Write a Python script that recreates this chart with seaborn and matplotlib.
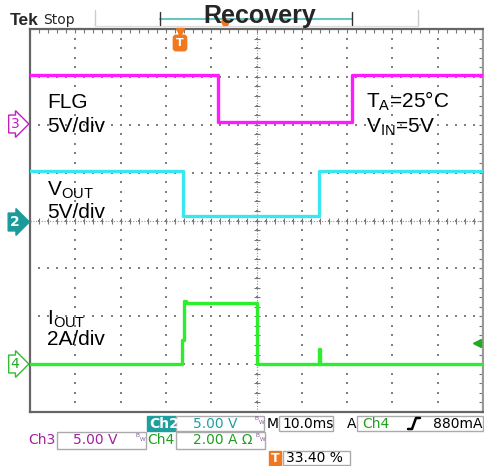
#!/usr/bin/env python3
import numpy as np, pandas as pd
import matplotlib
matplotlib.use('Agg')
import matplotlib.pyplot as plt
import seaborn as sns
from matplotlib.patches import Rectangle
from matplotlib.lines import Line2D

# screen: 10 ms/div, 10 divs, trigger at 33.40 %
t_left, t_right = -33.4, 66.6

# FLG (Ch3, 5 V/div, ground +2 div)
flg_t = [-33.4, 8.0, 37.6, 66.6]
flg_v = [5.2, 0.25, 5.2, 5.2]
# VOUT (Ch2, 5 V/div, ground 0 div)
vout_t = [-33.4, 0.4, 30.5, 66.6]
vout_v = [5.2, 0.45, 5.2, 5.2]
# IOUT (Ch4, 2 A/div, ground -3 div)
iout_t = [-33.4, 0.2, 0.5, 1.0, 16.6, 30.4, 30.6, 66.6]
iout_a = [0.0, 1.0, 2.65, 2.55, 0.0, 0.62, 0.0, 0.0]
trig_level = 0.88  # A

chan = {'FLG': (2, 5.0), 'VOUT': (0, 5.0), 'IOUT': (-3, 2.0)}
colors = {'FLG': '#ff1aff', 'VOUT': '#3ae6f0', 'IOUT': '#2cee2c'}

frames = []
for name, t, v in [('FLG', flg_t, flg_v), ('VOUT', vout_t, vout_v), ('IOUT', iout_t, iout_a)]:
    off, sc = chan[name]
    frames.append(pd.DataFrame({'trace': name, 't': t, 'div': off + np.array(v) / sc}))
df = pd.concat(frames, ignore_index=True)

sns.set_style('white')
plt.rcParams['mathtext.fontset'] = 'custom'
plt.rcParams['mathtext.rm'] = 'Liberation Sans'

W, H = 485, 466
def px(x, y):
    return (x / W, 1 - y / H)

fig = plt.figure(figsize=(4.85, 4.66), dpi=100)
ax = fig.add_axes([30 / W, 1 - 412 / H, 453 / W, 383 / H])

# graticule
major_x = t_left + 10 * np.arange(11)
minor_x = t_left + 2 * np.arange(51)
major_y = np.arange(-4, 5)
minor_y = np.linspace(-4, 4, 41)
gx, gy = np.meshgrid(major_x, minor_y)
ax.scatter(gx.ravel(), gy.ravel(), s=1.2, marker='s', color='#808080', lw=0, zorder=1)
gx, gy = np.meshgrid(minor_x, major_y)
ax.scatter(gx.ravel(), gy.ravel(), s=1.2, marker='s', color='#808080', lw=0, zorder=1)
xc = t_left + 50
ax.axvline(xc, ls=(0, (1, 1.5)), lw=0.8, color='#909090', zorder=1)
ax.axhline(0, ls=(0, (1, 1.5)), lw=0.8, color='#909090', zorder=1)
ax.scatter(np.full_like(minor_y, xc), minor_y, marker='_', s=14, lw=0.8, color='#777777', zorder=1)
ax.scatter(minor_x, np.zeros_like(minor_x), marker='|', s=14, lw=0.8, color='#777777', zorder=1)

sns.lineplot(data=df, x='t', y='div', hue='trace', palette=colors, drawstyle='steps-post',
             estimator=None, sort=False, legend=False, lw=2.4, ax=ax, zorder=3)

ax.set_xlim(t_left, t_right)
ax.set_ylim(-4, 4)
ax.set_xticks(major_x)
ax.set_xticks(minor_x, minor=True)
ax.set_yticks(major_y)
ax.set_yticks(minor_y, minor=True)
ax.tick_params(which='both', direction='in', length=3, width=0.8, color='#777777',
               top=True, right=True, labelbottom=False, labelleft=False)
ax.set_xlabel('')
ax.set_ylabel('')
for sp in ax.spines.values():
    sp.set_color('#666666')
    sp.set_linewidth(1.6)
ax.spines['right'].set_color('#999999')

# trigger level arrow
ax.plot([t_right - 1.4], [chan['IOUT'][0] + trig_level / chan['IOUT'][1]], marker='<', ms=6,
        color='#22aa22', clip_on=False, zorder=4)

# in-plot labels
lab = dict(fontsize=15, family='Liberation Sans', color='black', va='baseline', ha='left')
fig.text(*px(47, 108), 'FLG', **lab)
fig.text(*px(47, 132), '5V/div', **lab)
fig.text(*px(47, 195), r'V$_\mathrm{OUT}$', **lab)
fig.text(*px(47, 218), '5V/div', **lab)
fig.text(*px(47, 324), r'I$_\mathrm{OUT}$', **lab)
fig.text(*px(47, 345), '2A/div', **lab)
fig.text(*px(366, 107), r'T$_\mathrm{A}$=25°C', **lab)
fig.text(*px(366, 132), r'V$_\mathrm{IN}$=5V', **lab)

# channel ground markers
mk = dict(fontsize=10, ha='center', va='center')
fig.text(*px(15, 124), '3', color='#c020c0',
         bbox=dict(boxstyle='rarrow,pad=0.14', fc='white', ec='#c020c0', lw=1), **mk)
fig.text(*px(15, 222), '2', color='white', weight='bold',
         bbox=dict(boxstyle='rarrow,pad=0.14', fc='#1a9a9a', ec='#1a9a9a', lw=1), **mk)
fig.text(*px(15, 364), '4', color='#22aa22',
         bbox=dict(boxstyle='rarrow,pad=0.14', fc='white', ec='#33bb33', lw=1), **mk)

# header
fig.text(*px(10, 25), 'Tek', fontsize=12.5, weight='bold', family='Liberation Sans', va='baseline')
fig.text(*px(43, 24), 'Stop', fontsize=10, va='baseline')
for x in (95, 418):
    fig.add_artist(Line2D([x / W, x / W], [1 - 10 / H, 1 - 26 / H], color='#cccccc', lw=1))
fig.add_artist(Line2D([95 / W, 418 / W], [1 - 26 / H, 1 - 26 / H], color='#dddddd', lw=1))
fig.add_artist(Line2D([160 / W, 352 / W], [1 - 19 / H, 1 - 19 / H], color='#66c6c6', lw=1.5))
for x in (160, 352):
    fig.add_artist(Line2D([x / W, x / W], [1 - 12 / H, 1 - 25 / H], color='#333333', lw=1))
fig.add_artist(Line2D([225 / W], [1 - 22 / H], marker='p', ms=6, color='#f07820'))
fig.text(*px(260, 23), 'Recovery', fontsize=18, weight='bold', family='Liberation Sans',
         ha='center', va='baseline')

# trigger position marker
fig.add_artist(Line2D([180 / W], [1 - 32 / H], marker='v', ms=6, color='#f07820'))
fig.text(*px(180, 43), 'T', fontsize=8, weight='bold', color='white', ha='center', va='center',
         bbox=dict(boxstyle='round,pad=0.25', fc='#f07820', ec='#f07820'))

# readout boxes
def box(x0, y0, x1, y1, fc='white', ec='#aaaaaa'):
    fig.add_artist(Rectangle(px(x0, y1), (x1 - x0) / W, (y1 - y0) / H,
                             transform=fig.transFigure, fc=fc, ec=ec, lw=1))

teal, purple, green = '#20a0a0', '#a020a0', '#20a020'
txt = dict(fontsize=10, va='center', ha='left')
r1, r2, r3 = 423.5, 440.5, 458

box(147, 416, 175, 431, fc='#1e9e9e', ec='#1e9e9e')
fig.text(*px(149, r1), 'Ch2', color='white', weight='bold', **txt)
box(176, 416, 264, 431)
fig.text(*px(193, r1), '5.00 V', color=teal, **txt)
box(279, 416, 333, 431)
fig.text(*px(267, r1), 'M', color='black', **txt)
fig.text(*px(282, r1), '10.0ms', color='black', **txt)
fig.text(*px(347, r1), 'A', color='black', **txt)
box(357, 416, 483, 431)
fig.text(*px(362, r1), 'Ch4', color=green, **txt)
fig.add_artist(Line2D(np.array([408, 412, 416, 420]) / W, 1 - np.array([429, 429, 418, 418]) / H,
                      color='black', lw=1.8))
fig.text(*px(433, r1), '880mA', color='black', **txt)

fig.text(*px(28, r2), 'Ch3', color=purple, **txt)
box(57, 432, 146, 449)
fig.text(*px(73, r2), '5.00 V', color=purple, **txt)
fig.text(*px(147, r2), 'Ch4', color=green, **txt)
box(176, 432, 265, 449)
fig.text(*px(193, r2), '2.00 A Ω', color=green, **txt)

# bandwidth-limit flags
for x, y in [(254, 421), (135, 438), (255, 438)]:
    fig.text(*px(x, y), r'$\mathrm{^B{}_W}$', fontsize=6, color='#8a50a0', ha='left', va='center')

box(269, 451, 281, 465, fc='#f07820', ec='#f07820')
fig.text(*px(275, r3), 'T', fontsize=9, weight='bold', color='white', ha='center', va='center')
box(283, 451, 350, 465)
fig.text(*px(286, r3), '33.40 %', color='black', **txt)

fig.savefig('out.png', dpi=100)
